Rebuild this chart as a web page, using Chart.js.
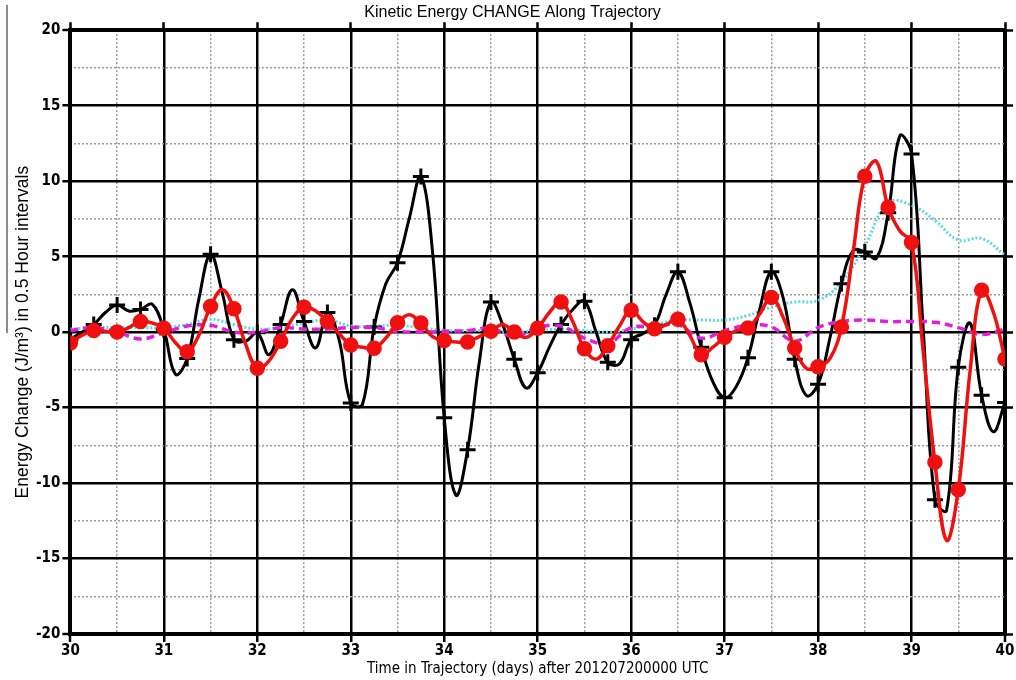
<!DOCTYPE html>
<html>
<head>
<meta charset="utf-8">
<title>Kinetic Energy CHANGE Along Trajectory</title>
<script src="https://cdn.jsdelivr.net/npm/chart.js@4"></script>
<style>
  html, body { margin: 0; padding: 0; background: #fff; }
  #wrap { width: 1016px; height: 680px; position: relative; }
</style>
</head>
<body>
<div id="wrap"><canvas id="keChart"></canvas></div>
<script>
// sample times (days after 2012-07-20 00 UTC), every 3 h for the two main curves, every 6 h for the others
const fineDays = Array.from({ length: 81 }, (_, i) => 30 + i / 8);
const coarseDays = Array.from({ length: 41 }, (_, i) => 30 + i / 4);

// black curve with "+" markers
const blackKE = [
  -0.5, 0.0, 0.5, 1.3, 1.8, 1.4, 1.5, 1.85,
  0.15, -2.8, -1.75, 2.2, 5.15, 2.6, -0.5, -0.6,
  -0.05, -1.5, 0.5, 2.8, 0.7, -1.05, 1.3, -0.5,
  -4.7, -4.8, 0.33, 3.2, 4.6, 7.5, 10.3, 5.3,
  -5.67, -10.8, -7.8, -2.0, 2.0, 0.5, -1.8, -3.7,
  -2.7, -1.0, 0.5, 1.5, 2.05, 0.0, -2.0, -2.1,
  -0.5, -0.1, 0.45, 2.5, 4.0, 2.0, -1.0, -3.3,
  -4.35, -3.6, -1.7, 1.5, 4.0, 2.3, -1.8, -4.2,
  -3.45, -0.44, 3.2, 5.4, 5.3, 4.9, 7.9, 13.0,
  11.8, 0.2, -11.1, -11.8, -2.33, 0.6, -4.18, -6.6,
  -4.67
];

// red curve with dot markers
const redKE = [
  -0.73, -0.2, 0.1, 0.05, 0.0, 0.3, 0.7, 0.6,
  0.25, -0.7, -1.3, -0.2, 1.7, 2.8, 1.55, -0.8,
  -2.4, -1.9, -0.6, 0.9, 1.65, 1.4, 0.7, -0.1,
  -0.85, -1.0, -1.07, -0.4, 0.62, 1.15, 0.6, -0.3,
  -0.55, -0.65, -0.65, -0.3, 0.05, 0.5, 0.0, -0.35,
  0.25, 1.3, 2.0, 0.7, -1.1, -1.8, -0.9, 0.4,
  1.45, 0.7, 0.22, 0.5, 0.85, -0.2, -1.5, -1.0,
  -0.35, 0.1, 0.27, 1.2, 2.3, 1.0, -1.05, -2.4,
  -2.3, -1.78, 0.33, 5.3, 10.33, 11.3, 8.27, 6.7,
  5.93, -1.3, -8.62, -13.8, -10.44, -2.67, 2.78, 1.33,
  -1.78
];

// cyan dotted curve
const cyanKE = [
  0.2, 0.3, 0.3, 0.3, 0.3, 0.5, 0.85, 0.5,
  0.2, 0.3, 0.6, 0.8, 0.4, 0.4, 0.45, 0.3,
  0.1, 0.1, 0.1, 0.0, 0.1, 0.2, 0.1, 0.0,
  0.2, 0.5, 0.8, 0.8, 0.8, 1.1, 1.65, 2.0,
  2.1, 3.3, 5.7, 8.6, 8.4, 7.4, 6.1, 6.2,
  5.1
];

// magenta dashed curve
const magentaKE = [
  0.1, 0.3, 0.0, -0.45, -0.05, 0.4, 0.45, 0.0,
  0.0, 0.3, 0.2, 0.2, 0.3, 0.3, 0.05, 0.0,
  0.05, 0.1, 0.25, -0.3, 0.3, 0.4, -0.4, -0.75,
  0.3, 0.35, 0.5, -0.4, 0.1, 0.45, 0.35, -0.6,
  0.3, 0.7, 0.8, 0.7, 0.7, 0.65, 0.3, -0.15,
  0.2
];

const xTickDays = [30, 31, 32, 33, 34, 35, 36, 37, 38, 39, 40];
const yTickValues = [-20, -15, -10, -5, 0, 5, 10, 15, 20];

const toPoints = (days, vals) => days.map((d, i) => ({ x: d, y: vals[i] }));

const tickFont = { family: "'Liberation Sans Narrow', 'DejaVu Sans Condensed', 'Liberation Sans', sans-serif", size: 15, weight: 'bold' };
const xTitleFont = { family: "'Liberation Sans Narrow', 'DejaVu Sans Condensed', 'Liberation Sans', sans-serif", size: 15 };
const yTitleFont = { family: "'Liberation Sans', Arial, sans-serif", size: 17.5 };

// grey strip on the left edge of the original figure
const edgeLine = {
  id: 'edgeLine',
  afterDraw(chart) {
    const c = chart.ctx;
    c.save();
    c.strokeStyle = '#8c8c8c';
    c.lineWidth = 2;
    c.beginPath();
    c.moveTo(7, 5);
    c.lineTo(7, 333);
    c.stroke();
    c.restore();
  }
};

const edgeWidth = (ctx, lo, hi) => (ctx.tick && (ctx.tick.value === lo || ctx.tick.value === hi) ? 4 : 2.5);
const minorColor = step => ctx => (ctx.tick && Math.abs(ctx.tick.value % step) > 1e-9 ? '#9a9a9a' : 'rgba(0,0,0,0)');

new Chart(document.getElementById('keChart'), {
  type: 'line',
  data: {
    datasets: [
      {
        label: 'red',
        data: toPoints(fineDays, redKE),
        borderColor: '#f01010',
        backgroundColor: '#f01010',
        borderWidth: 3.5,
        tension: 0.4,
        pointStyle: 'circle',
        pointRadius: ctx => (ctx.index % 2 === 0 ? 6 : 0),
        pointBackgroundColor: '#f01010',
        pointBorderColor: '#f01010',
        order: 1
      },
      {
        label: 'magenta',
        data: toPoints(coarseDays, magentaKE),
        borderColor: '#e020e0',
        borderWidth: 3.5,
        borderDash: [8, 5],
        tension: 0.4,
        pointRadius: 0,
        order: 2
      },
      {
        label: 'black',
        data: toPoints(fineDays, blackKE),
        borderColor: '#000',
        borderWidth: 3,
        tension: 0.4,
        pointStyle: 'cross',
        pointRadius: ctx => (ctx.index % 2 === 0 ? 8 : 0),
        pointBorderWidth: 3,
        pointBorderColor: '#000',
        order: 3
      },
      {
        label: 'cyan',
        data: toPoints(coarseDays, cyanKE),
        borderColor: '#5cd8e2',
        borderWidth: 3,
        borderDash: [2, 2],
        tension: 0.4,
        pointRadius: 0,
        order: 4
      }
    ]
  },
  options: {
    responsive: true,
    maintainAspectRatio: false,
    animation: false,
    layout: { padding: { left: 9, right: 0, top: 0, bottom: 0 } },
    plugins: {
      legend: { display: false },
      tooltip: { enabled: false },
      title: {
        display: true,
        text: 'Kinetic Energy CHANGE Along Trajectory',
        color: '#000',
        font: { family: "'Liberation Sans', Arial, sans-serif", size: 16, weight: 'normal' },
        padding: { top: 3, bottom: 0 }
      }
    },
    scales: {
      x: {
        type: 'linear',
        position: 'bottom',
        min: 30,
        max: 40,
        afterBuildTicks: axis => { axis.ticks = xTickDays.map(v => ({ value: v })); },
        ticks: { color: '#000', font: tickFont, padding: 0, maxRotation: 0 },
        grid: { color: '#000', lineWidth: ctx => edgeWidth(ctx, 30, 40), tickLength: 8, tickWidth: 2.5, tickColor: '#000' },
        border: { color: '#000', width: 4 },
        title: { display: true, text: 'Time in Trajectory (days) after 201207200000 UTC', color: '#000', font: xTitleFont, padding: { top: 0, bottom: 2 } }
      },
      xMinor: {
        type: 'linear',
        position: 'bottom',
        min: 30,
        max: 40,
        ticks: { display: false, stepSize: 0.5 },
        grid: { drawTicks: false, color: minorColor(1), lineWidth: 1.5 },
        border: { display: false, dash: [2, 2] }
      },
      xTop: {
        type: 'linear',
        position: 'top',
        min: 30,
        max: 40,
        ticks: { display: false, stepSize: 1 },
        grid: { drawOnChartArea: false, tickLength: 8, tickWidth: 2.5, tickColor: '#000' },
        border: { display: false }
      },
      y: {
        type: 'linear',
        position: 'left',
        min: -20,
        max: 20,
        afterBuildTicks: axis => { axis.ticks = yTickValues.map(v => ({ value: v })); },
        ticks: { color: '#000', font: tickFont, padding: 2 },
        grid: { color: '#000', lineWidth: ctx => edgeWidth(ctx, -20, 20), tickLength: 8, tickWidth: 2.5, tickColor: '#000' },
        border: { color: '#000', width: 4 },
        title: { display: true, text: 'Energy Change (J/m³) in 0.5 Hour intervals', color: '#000', font: yTitleFont, padding: { top: 4, bottom: 0 } }
      },
      yMinor: {
        type: 'linear',
        position: 'left',
        min: -20,
        max: 20,
        ticks: { display: false, stepSize: 2.5 },
        grid: { drawTicks: false, color: minorColor(5), lineWidth: 1.5 },
        border: { display: false, dash: [2, 2] }
      },
      yRight: {
        type: 'linear',
        position: 'right',
        min: -20,
        max: 20,
        ticks: { display: false, stepSize: 5 },
        grid: { drawOnChartArea: false, tickLength: 8, tickWidth: 2.5, tickColor: '#000' },
        border: { display: false }
      }
    }
  },
  plugins: [edgeLine]
});
</script>
</body>
</html>
